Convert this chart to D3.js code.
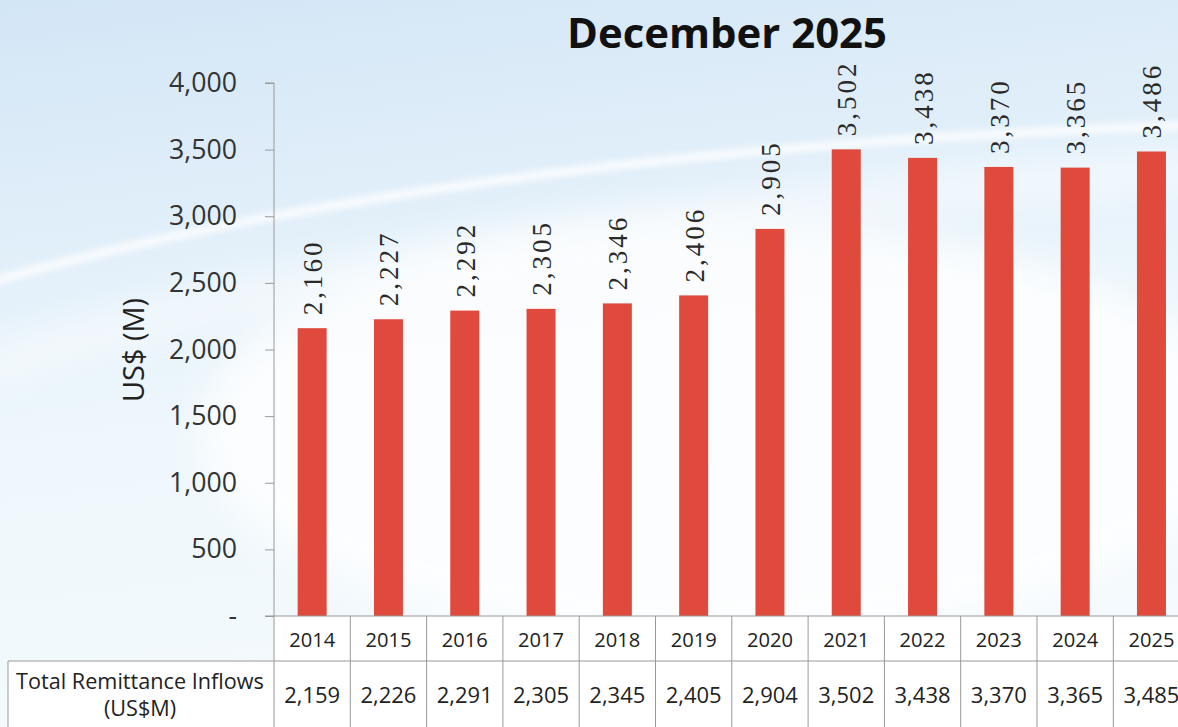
<!DOCTYPE html>
<html><head><meta charset="utf-8">
<script src="https://cdn.jsdelivr.net/npm/d3@7"></script>
<style>html,body{margin:0;padding:0;overflow:hidden;background:#fff}</style>
</head><body>
<svg id="chart" width="1178" height="727"></svg>
<script>
const years = ["2014","2015","2016","2017","2018","2019","2020","2021","2022","2023","2024","2025"];
const barValues = [2160,2227,2292,2305,2346,2406,2905,3502,3438,3370,3365,3486];
const tableValues = [2159,2226,2291,2305,2345,2405,2904,3502,3438,3370,3365,3485];
const yTicks = [0,500,1000,1500,2000,2500,3000,3500,4000];
const title = "December 2025";
const yTitle = "US$ (M)";
const rowLabel = ["Total Remittance Inflows","(US$M)"];

const W = 1178, H = 727;
const svg = d3.select("#chart");
const defs = svg.append("defs");
const SANS = "'Open Sans', Lato, sans-serif";
const SERIF = "'Liberation Serif', 'Times New Roman', serif";

function fitSize(txt, family, weight, target){
  const t = svg.append("text").style("font-family",family).style("font-weight",weight).style("font-size","100px").text(txt);
  const w = t.node().getComputedTextLength(); t.remove();
  return 100*target/w;
}

// background
const bg = defs.append("linearGradient").attr("id","bg").attr("x1",0).attr("y1",0).attr("x2",0.2).attr("y2",1);
bg.append("stop").attr("offset","0%").attr("stop-color","#d3e6f6");
bg.append("stop").attr("offset","30%").attr("stop-color","#e0eef9");
bg.append("stop").attr("offset","60%").attr("stop-color","#eef7fc");
bg.append("stop").attr("offset","100%").attr("stop-color","#f4fafd");
svg.append("rect").attr("width",W).attr("height",H).attr("fill","url(#bg)");
const blur = defs.append("filter").attr("id","blur").attr("x","-20%").attr("y","-20%").attr("width","140%").attr("height","140%");
blur.append("feGaussianBlur").attr("stdDeviation",18);
const blur2 = defs.append("filter").attr("id","blur2");
blur2.append("feGaussianBlur").attr("stdDeviation",3);
svg.append("ellipse").attr("cx",720).attr("cy",430).attr("rx",520).attr("ry",210)
  .attr("fill","#ffffff").attr("opacity",0.8).attr("filter","url(#blur)");
svg.append("path").attr("d","M-20,285 Q450,150 1200,125")
  .attr("fill","none").attr("stroke","#ffffff").attr("stroke-width",8).attr("opacity",0.85).attr("filter","url(#blur2)");
svg.append("path").attr("d","M-20,370 Q450,220 1200,170")
  .attr("fill","none").attr("stroke","#ffffff").attr("stroke-width",34).attr("opacity",0.6).attr("filter","url(#blur)");

const x0 = 274, colW = 76.3;
const x = d3.scaleBand().domain(years).range([x0, x0 + colW*years.length]).paddingInner(0).paddingOuter(0);
const y = d3.scaleLinear().domain([0,4000]).range([616,83]);
const barW = 29;

// title
svg.append("text").attr("x",727).attr("y",48).attr("text-anchor","middle")
  .style("font-family",SANS).style("font-weight","bold")
  .style("font-size",fitSize(title,SANS,"bold",320)+"px").attr("fill","#111").text(title);

// y axis
const tickSize = fitSize("4,000",SANS,"normal",68);
const yAxis = d3.axisLeft(y).tickValues(yTicks).tickSize(9).tickPadding(28)
  .tickFormat(d => d === 0 ? "-" : d3.format(",")(d));
const gy = svg.append("g").attr("transform",`translate(${x0},0)`).call(yAxis);
gy.select(".domain").attr("stroke","#999").attr("d",`M-9,${y(4000)}H0V${y(0)}`);
gy.selectAll(".tick line").attr("stroke","#999");
gy.selectAll(".tick text").style("font-family",SANS).style("font-size",tickSize+"px").attr("fill","#333");

svg.append("text").attr("transform","translate(144,350) rotate(-90)").attr("text-anchor","middle")
  .style("font-family",SANS).style("font-size",fitSize(yTitle,SANS,"normal",104)+"px").attr("fill","#222").text(yTitle);

// bars
svg.append("g").selectAll("rect").data(barValues).join("rect")
  .attr("x",(d,i)=>x(years[i]) + x.bandwidth()/2 - barW/2)
  .attr("y",d=>y(d)).attr("width",barW).attr("height",d=>y(0)-y(d))
  .attr("fill","#df4a3d");

// value labels (serif, thin, slightly spaced)
svg.append("g").selectAll("text").data(barValues).join("text")
  .attr("transform",(d,i)=>`translate(${x(years[i]) + x.bandwidth()/2 + 10},${y(d)-13}) rotate(-90)`)
  .style("font-family",SERIF).style("font-size","27px").style("letter-spacing","3px").attr("fill","#2a2a2a")
  .text(d=>d3.format(",")(d));

// table
const lineC = "#999";
const cellBg = svg.append("g");
cellBg.append("rect").attr("x",x0).attr("y",y(0)).attr("width",W-x0).attr("height",H-y(0)).attr("fill","#ffffff");
cellBg.append("rect").attr("x",8).attr("y",661).attr("width",W-8).attr("height",H-661).attr("fill","#ffffff");
const tg = svg.append("g");
tg.append("line").attr("x1",x0-9).attr("x2",W+20).attr("y1",y(0)).attr("y2",y(0)).attr("stroke",lineC);
years.forEach(yr=>{
  const xx = x(yr);
  tg.append("line").attr("x1",xx).attr("x2",xx).attr("y1",y(0)).attr("y2",H).attr("stroke",lineC);
});
tg.append("line").attr("x1",x0+colW*years.length).attr("x2",x0+colW*years.length).attr("y1",y(0)).attr("y2",H).attr("stroke",lineC);
tg.append("line").attr("x1",8).attr("x2",W+20).attr("y1",661).attr("y2",661).attr("stroke",lineC);
tg.append("line").attr("x1",8).attr("x2",8).attr("y1",661).attr("y2",H).attr("stroke",lineC);

const yrSize = fitSize("2014",SANS,"normal",46);
const tvSize = fitSize("2,159",SANS,"normal",56);
const rlSize = fitSize(rowLabel[0],SANS,"normal",248);
tg.selectAll("text.yr").data(years).join("text").attr("class","yr")
  .attr("x",d=>x(d)+x.bandwidth()/2).attr("y",647).attr("text-anchor","middle")
  .style("font-family",SANS).style("font-size",yrSize+"px").attr("fill","#222").text(d=>d);
tg.selectAll("text.val").data(tableValues).join("text").attr("class","val")
  .attr("x",(d,i)=>x(years[i])+x.bandwidth()/2).attr("y",703).attr("text-anchor","middle")
  .style("font-family",SANS).style("font-size",tvSize+"px").attr("fill","#222").text(d=>d3.format(",")(d));
tg.selectAll("text.rl").data(rowLabel).join("text").attr("class","rl")
  .attr("x",140).attr("y",(d,i)=>689+i*27).attr("text-anchor","middle")
  .style("font-family",SANS).style("font-size",rlSize+"px").attr("fill","#222").text(d=>d);
</script>
</body></html>
